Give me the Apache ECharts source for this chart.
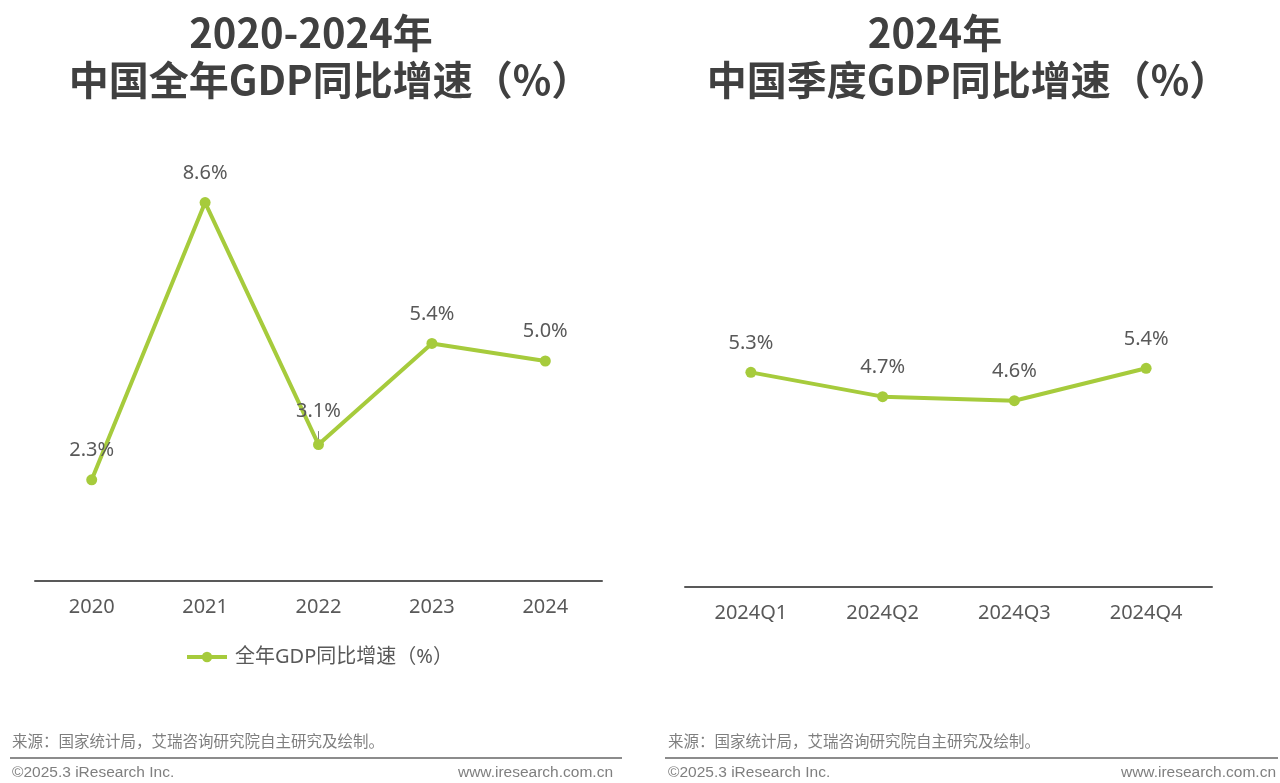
<!DOCTYPE html>
<html>
<head>
<meta charset="utf-8">
<title>中国GDP同比增速</title>
<script src="https://cdn.jsdelivr.net/npm/echarts@6/dist/echarts.min.js"></script>
<style>
  html, body { margin: 0; padding: 0; background: #fff; }
  #chart { width: 1280px; height: 783px; }
</style>
</head>
<body>
<div id="chart"></div>
<script>
// 全年数据
const yearCategories = ['2020', '2021', '2022', '2023', '2024'];
const yearGrowth = [2.3, 8.6, 3.1, 5.4, 5.0];
// 季度数据
const quarterCategories = ['2024Q1', '2024Q2', '2024Q3', '2024Q4'];
const quarterGrowth = [5.3, 4.7, 4.6, 5.4];

const green = '#a6cb3c';
const textGray = '#595959';
const titleColor = '#404040';
const font = '"Noto Sans", "Noto Sans CJK SC", sans-serif';
const cjkBold = '"Noto Sans CJK SC", sans-serif';

const chart = echarts.init(document.getElementById('chart'));

function xAxisOf(idx, data) {
    return {
        type: 'category',
        gridIndex: idx,
        data: data,
        boundaryGap: true,
        axisLine: { lineStyle: { color: '#595959', width: 2 } },
        axisTick: { show: false },
        axisLabel: { color: textGray, fontSize: 20, fontFamily: font, margin: 16 }
    };
}

function yAxisOf(idx) {
    return { type: 'value', gridIndex: idx, min: 0, max: 10, show: false, splitLine: { show: false } };
}

function lineSeries(name, idx, values) {
    return {
        name: name,
        type: 'line',
        xAxisIndex: idx,
        yAxisIndex: idx,
        data: values,
        symbol: 'circle',
        symbolSize: 11,
        lineStyle: { color: green, width: 4 },
        itemStyle: { color: green },
        label: {
            show: true,
            position: 'top',
            distance: 14,
            color: textGray,
            fontSize: 20,
            fontFamily: font,
            formatter: p => Number(p.value).toFixed(1) + '%'
        }
    };
}

const yearSeries = lineSeries('全年GDP同比增速（%）', 0, yearGrowth.map((v, i) => {
    // 2022 的标签带一条短引导线
    if (i === 2) {
        return {
            value: v,
            label: { distance: 18 },
            labelLine: { show: true, lineStyle: { color: '#808080', width: 1 } }
        };
    }
    return v;
}));

const quarterSeries = lineSeries('季度GDP同比增速（%）', 1, quarterGrowth);

// 标题、来源与页脚
function txt(x, y, text, opt) {
    return {
        type: 'text', x: x, y: y, silent: true,
        style: Object.assign({ text: text, textVerticalAlign: 'middle' }, opt)
    };
}
const titleStyle = { fontSize: 40, fontWeight: 'bold', fontFamily: cjkBold, fill: titleColor, textAlign: 'center' };
const srcStyle = { fontSize: 15.5, fontFamily: '"Noto Sans CJK SC", sans-serif', fill: '#7f7f7f' };
const footStyle = { fontSize: 15.5, fontFamily: '"Liberation Sans", Arial, sans-serif', fill: '#7f7f7f' };

chart.setOption({
    backgroundColor: '#fff',
    animation: false,
    grid: [
        { left: 35, right: 678, top: 141, bottom: 202 },
        { left: 685, right: 68, top: 182, bottom: 196 }
    ],
    xAxis: [xAxisOf(0, yearCategories), xAxisOf(1, quarterCategories)],
    yAxis: [yAxisOf(0), yAxisOf(1)],
    legend: {
        data: ['全年GDP同比增速（%）'],
        left: 180,
        top: 642,
        itemWidth: 40,
        itemHeight: 13,
        lineStyle: { width: 4 },
        textStyle: { color: textGray, fontSize: 20, fontFamily: font, padding: [0, 0, 0, 3] }
    },
    series: [yearSeries, quarterSeries],
    graphic: [
        txt(311, 33, '2020-2024年', titleStyle),
        txt(330, 80, '中国全年GDP同比增速（%）', titleStyle),
        txt(935, 33, '2024年', titleStyle),
        txt(968, 80, '中国季度GDP同比增速（%）', titleStyle),

        txt(12, 741, '来源：国家统计局，艾瑞咨询研究院自主研究及绘制。', srcStyle),
        { type: 'line', silent: true, shape: { x1: 10, y1: 758, x2: 622, y2: 758 }, style: { stroke: '#8c8c8c', lineWidth: 2 } },
        txt(12, 773, '©2025.3 iResearch Inc.', footStyle),
        txt(613, 773, 'www.iresearch.com.cn', Object.assign({ textAlign: 'right' }, footStyle)),

        txt(668, 741, '来源：国家统计局，艾瑞咨询研究院自主研究及绘制。', srcStyle),
        { type: 'line', silent: true, shape: { x1: 665, y1: 758, x2: 1278, y2: 758 }, style: { stroke: '#8c8c8c', lineWidth: 2 } },
        txt(668, 773, '©2025.3 iResearch Inc.', footStyle),
        txt(1276, 773, 'www.iresearch.com.cn', Object.assign({ textAlign: 'right' }, footStyle))
    ]
});
</script>
</body>
</html>
